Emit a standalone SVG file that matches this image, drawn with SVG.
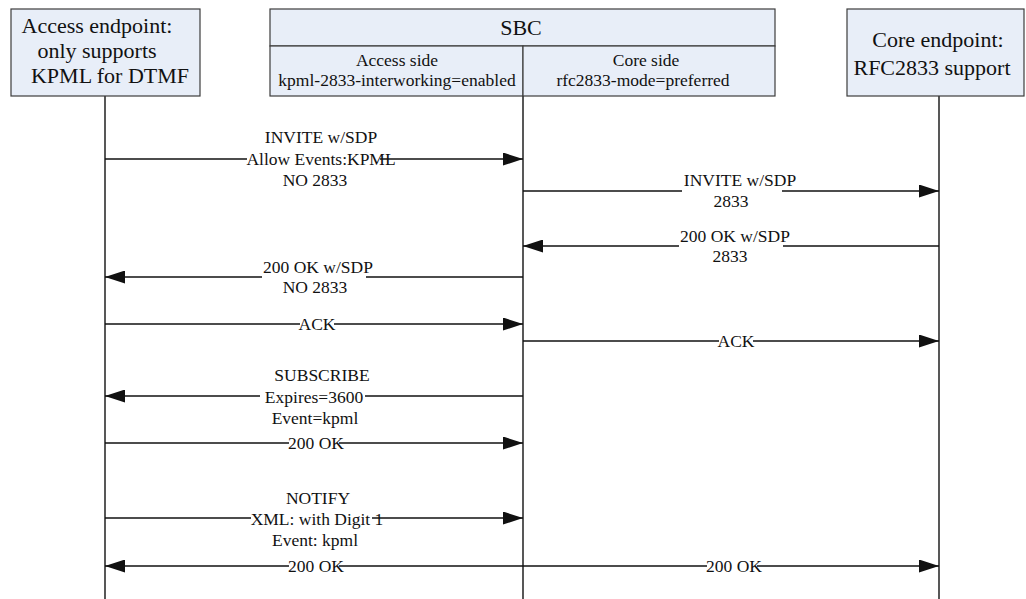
<svg xmlns="http://www.w3.org/2000/svg" width="1026" height="599" viewBox="0 0 1026 599">
<style>
.box{fill:#E8EEF8;stroke:#3c3c3c;stroke-width:1.2}
.t{font-family:"Liberation Serif","Times New Roman",serif;fill:#111;text-anchor:middle}
.big{font-size:22px}
.sm{font-size:17.5px}
.life{stroke:#111;stroke-width:1.4;fill:none}
.msg{stroke:#111;stroke-width:1.4;fill:none;marker-end:url(#ah)}
.bg{fill:#fff}
</style>
<defs>
<marker id="ah" markerUnits="userSpaceOnUse" markerWidth="20" markerHeight="13" refX="20" refY="6.5" orient="auto">
<path d="M0,0 L20,6.5 L0,13 z" fill="#111"/>
</marker>
</defs>
<rect width="1026" height="599" fill="#fff"/>
<g id="lifelines">
<line class="life" x1="105" y1="96" x2="105" y2="599"/>
<line class="life" x1="523" y1="96" x2="523" y2="599"/>
<line class="life" x1="939" y1="96" x2="939" y2="599"/>
</g>
<g id="access-endpoint">
<rect class="box" x="11" y="9" width="189" height="87"/>
<text class="t big" x="97" y="33">Access endpoint:</text>
<text class="t big" x="97" y="58">only supports</text>
<text class="t big" x="110" y="83">KPML for DTMF</text>
</g>
<g id="sbc">
<rect class="box" x="270" y="9" width="505" height="37"/>
<rect class="box" x="270" y="46" width="253" height="50"/>
<rect class="box" x="523" y="46" width="252" height="50"/>
<text class="t big" x="521" y="35">SBC</text>
<text class="t sm" x="397" y="66">Access side</text>
<text class="t sm" x="397" y="86">kpml-2833-interworking=enabled</text>
<text class="t sm" x="646" y="66">Core side</text>
<text class="t sm" x="643" y="86">rfc2833-mode=preferred</text>
</g>
<g id="core-endpoint">
<rect class="box" x="847" y="9" width="177" height="87"/>
<text class="t big" x="938" y="47">Core endpoint:</text>
<text class="t big" x="932" y="75">RFC2833 support</text>
</g>
<g id="connectors">
<line class="msg" x1="105" y1="159" x2="523" y2="159"/>
<line class="msg" x1="523" y1="191" x2="939" y2="191"/>
<line class="msg" x1="939" y1="246" x2="523" y2="246"/>
<line class="msg" x1="523" y1="277" x2="105" y2="277"/>
<line class="msg" x1="105" y1="324" x2="523" y2="324"/>
<line class="msg" x1="523" y1="341" x2="939" y2="341"/>
<line class="msg" x1="523" y1="396" x2="105" y2="396"/>
<line class="msg" x1="105" y1="443" x2="523" y2="443"/>
<line class="msg" x1="105" y1="518" x2="523" y2="518"/>
<line class="msg" x1="523" y1="566" x2="105" y2="566"/>
<line class="msg" x1="523" y1="566" x2="939" y2="566"/>
</g>
<g id="labels">
<rect class="bg" x="247" y="156" width="133" height="6"/>
<text class="t sm" x="321" y="143">INVITE w/SDP</text>
<text class="t sm" x="321" y="165">Allow Events:KPML</text>
<text class="t sm" x="315" y="186">NO 2833</text>

<rect class="bg" x="682" y="188" width="100" height="6"/>
<text class="t sm" x="740" y="186">INVITE w/SDP</text>
<text class="t sm" x="731" y="207">2833</text>

<rect class="bg" x="679" y="243" width="104" height="6"/>
<text class="t sm" x="735" y="242">200 OK w/SDP</text>
<text class="t sm" x="730" y="262">2833</text>

<rect class="bg" x="262" y="274" width="104" height="6"/>
<text class="t sm" x="318" y="273">200 OK w/SDP</text>
<text class="t sm" x="315" y="293">NO 2833</text>

<rect class="bg" x="300" y="321" width="34" height="6"/>
<text class="t sm" x="317" y="330">ACK</text>

<rect class="bg" x="719" y="338" width="34" height="6"/>
<text class="t sm" x="736" y="347">ACK</text>

<rect class="bg" x="260" y="393" width="105" height="6"/>
<text class="t sm" x="322" y="381">SUBSCRIBE</text>
<text class="t sm" x="314" y="403">Expires=3600</text>
<text class="t sm" x="315" y="424">Event=kpml</text>

<rect class="bg" x="289" y="440" width="50" height="6"/>
<text class="t sm" x="316" y="449">200 OK</text>

<rect class="bg" x="251" y="515" width="121" height="6"/>
<text class="t sm" x="318" y="504">NOTIFY</text>
<text class="t sm" x="317" y="525">XML: with Digit 1</text>
<text class="t sm" x="315" y="546">Event: kpml</text>

<rect class="bg" x="289" y="563" width="50" height="6"/>
<text class="t sm" x="316" y="572">200 OK</text>
<rect class="bg" x="707" y="563" width="50" height="6"/>
<text class="t sm" x="734" y="572">200 OK</text>
</g>
</svg>
